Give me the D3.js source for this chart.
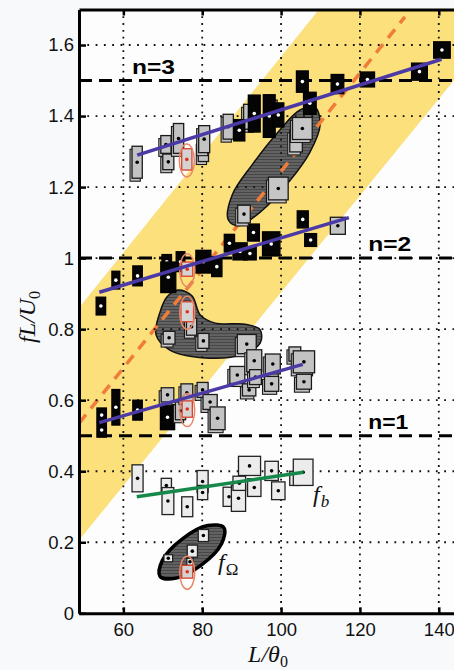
<!DOCTYPE html>
<html><head><meta charset="utf-8">
<script src="https://cdn.jsdelivr.net/npm/d3@7"></script>
<style>
html,body{margin:0;padding:0;background:#f8f9fb;}
svg{display:block;}
</style></head><body>
<svg id="chart" width="454" height="670"></svg>
<script>
// Axis ticks and the horizontal mode levels fL/U0 = n/2
const xTicks = [60, 80, 100, 120, 140];
const yTicks = [0, 0.2, 0.4, 0.6, 0.8, 1, 1.2, 1.4, 1.6];
const modeLevels = [0.5, 1, 1.5];
const modeNames = ["n=1", "n=2", "n=3"];

// Each measurement: [L/θ0, fL/U0, ±L/θ0, ±fL/U0]
const n3Dark = [
  [89.4, 1.360, 1.4, 0.030], [93.2, 1.407, 1.5, 0.052], [97.0, 1.400, 1.5, 0.060],
  [99.3, 1.403, 1.4, 0.034], [105.4, 1.497, 1.5, 0.030], [107.3, 1.436, 1.6, 0.031],
  [114.3, 1.490, 1.6, 0.027], [121.9, 1.503, 1.8, 0.021], [135.1, 1.525, 2.0, 0.024],
  [140.8, 1.586, 2.1, 0.023]
];
const n3Gray = [
  [63.5, 1.270, 1.3, 0.045], [70.8, 1.320, 1.3, 0.025], [71.4, 1.271, 1.4, 0.022],
  [74.0, 1.337, 1.3, 0.042], [80.3, 1.300, 1.3, 0.028], [80.5, 1.335, 1.4, 0.038],
  [86.6, 1.370, 1.3, 0.035], [92.0, 1.398, 1.5, 0.035], [97.6, 1.420, 1.4, 0.025]
];
const n2Dark = [
  [54.3, 0.865, 1.2, 0.025], [58.1, 0.938, 1.0, 0.025], [63.6, 0.950, 1.2, 0.028],
  [71.0, 0.990, 1.2, 0.020], [71.4, 0.946, 1.9, 0.043], [74.5, 0.990, 1.1, 0.028],
  [80.3, 0.990, 1.9, 0.032], [83.7, 0.976, 1.3, 0.028], [86.9, 1.042, 1.3, 0.025],
  [89.6, 1.019, 1.8, 0.024], [92.1, 1.013, 1.6, 0.018], [93.0, 1.072, 1.5, 0.024],
  [97.5, 1.040, 2.2, 0.034], [105.5, 1.109, 1.4, 0.024], [107.5, 1.051, 1.5, 0.018]
];
const n2Gray = [
  [114.4, 1.091, 1.9, 0.024]
];
const n1Dark = [
  [54.5, 0.558, 1.2, 0.020], [54.5, 0.516, 1.2, 0.020], [58.1, 0.580, 1.0, 0.050],
  [63.6, 0.572, 1.2, 0.028], [71.2, 0.552, 1.8, 0.035]
];
const n1Gray = [
  [71.2, 0.615, 1.6, 0.020], [74.5, 0.570, 1.3, 0.025], [76.1, 0.621, 1.5, 0.025],
  [80.1, 0.629, 1.4, 0.021], [82.0, 0.595, 1.8, 0.021], [83.9, 0.549, 1.9, 0.032],
  [88.9, 0.671, 1.9, 0.024], [91.9, 0.629, 1.7, 0.017], [93.2, 0.711, 1.9, 0.031],
  [93.5, 0.665, 1.5, 0.021], [97.9, 0.702, 1.9, 0.028], [97.6, 0.646, 1.8, 0.021],
  [103.5, 0.730, 1.5, 0.020], [105.8, 0.708, 2.7, 0.031], [105.8, 0.652, 1.9, 0.021]
];
const clusterUpper = [
  [90.6, 1.124, 1.6, 0.025], [99.3, 1.196, 2.5, 0.032], [103.8, 1.330, 1.6, 0.031],
  [105.4, 1.365, 2.5, 0.031]
];
const clusterMiddle = [
  [71.6, 0.776, 1.5, 0.018], [77.3, 0.807, 1.3, 0.024], [80.3, 0.767, 1.4, 0.021],
  [91.3, 0.758, 2.4, 0.027]
];
const fbPoints = [
  [63.6, 0.380, 1.4, 0.038], [70.9, 0.360, 1.3, 0.020], [71.3, 0.316, 1.5, 0.038],
  [76.2, 0.300, 1.4, 0.028], [80.1, 0.371, 1.4, 0.031], [80.1, 0.340, 1.3, 0.020],
  [86.8, 0.328, 1.5, 0.027], [89.2, 0.324, 1.8, 0.037], [89.4, 0.366, 1.6, 0.020],
  [92.0, 0.415, 2.8, 0.027], [93.2, 0.354, 1.7, 0.025], [97.6, 0.401, 1.7, 0.027],
  [99.3, 0.345, 1.7, 0.025], [103.5, 0.380, 1.3, 0.020], [105.6, 0.397, 2.5, 0.037]
];
const fOmegaPoints = [
  [71.4, 0.155, 1.1, 0.010], [76.9, 0.145, 0.8, 0.010], [77.5, 0.175, 1.3, 0.017],
  [80.3, 0.219, 1.3, 0.017]
];
const flaggedPoints = [
  [76.1, 1.278, 1.3, 0.030], [76.2, 0.969, 1.4, 0.020], [76.2, 0.849, 1.6, 0.028],
  [76.2, 0.575, 1.3, 0.023], [76.2, 0.117, 1.4, 0.018]
];

// Linear fits, [L/θ0, fL/U0] end points
const fitN3 = [[63.5, 1.290], [140.7, 1.560]];
const fitN2 = [[53.9, 0.904], [117.2, 1.114]];
const fitN1 = [[53.9, 0.537], [105.5, 0.701]];
const fitFb = [[63.4, 0.328], [105.7, 0.397]];
const scalingLine = [[48.75, 0.535], [131.4, 1.679]];
const scalingBand = [[48.75, 0.206], [48.75, 0.86], [109.6, 1.7], [146, 1.7], [146, 1.53]];

// Outlines of the grouped regions
const regionUpper = [
  [108.6, 1.425], [109.9, 1.375], [107.3, 1.298], [102.3, 1.219], [95.2, 1.134],
  [89.1, 1.091], [86.6, 1.108], [87.6, 1.178], [92.6, 1.262], [99.7, 1.361], [104.8, 1.417]
];
const regionMiddle = [
  [73.9, 0.910], [77.4, 0.894], [79.5, 0.840], [83.3, 0.817], [90.9, 0.814], [94.7, 0.798],
  [94.7, 0.761], [89.6, 0.727], [80.7, 0.719], [71.8, 0.741], [68.3, 0.784], [69.3, 0.848],
  [71.1, 0.891]
];
const regionOmega = [
  [85.5, 0.241], [84.9, 0.196], [79.9, 0.137], [73.4, 0.099], [69.3, 0.104],
  [69.9, 0.149], [74.9, 0.209], [81.4, 0.247]
];

const svg = d3.select("#chart");
const x = d3.scaleLinear().domain([48.75, 145]).range([79, 458.5]);
const y = d3.scaleLinear().domain([0, 1.7]).range([613.3, 9.5]);
const [x0, x1] = x.range();
const [yb, yt] = y.range();

const defs = svg.append("defs");
defs.append("clipPath").attr("id", "plotClip")
  .append("rect").attr("x", x0).attr("y", yt).attr("width", x1 - x0).attr("height", yb - yt);
const pat = defs.append("pattern").attr("id", "hatch")
  .attr("patternUnits", "userSpaceOnUse").attr("width", 6).attr("height", 3);
pat.append("rect").attr("width", 6).attr("height", 3).attr("fill", "#626262");
pat.append("rect").attr("width", 6).attr("height", 1).attr("fill", "#474747");

svg.append("rect").attr("x", x0).attr("y", yt).attr("width", x1 - x0).attr("height", yb - yt)
  .attr("fill", "#fdfdfd");

const plot = svg.append("g").attr("clip-path", "url(#plotClip)");
const line = d3.line().x(d => x(d[0])).y(d => y(d[1]));
const blob = d3.line().x(d => x(d[0])).y(d => y(d[1])).curve(d3.curveCatmullRomClosed.alpha(0.5));

// Scaling band and its centre line
plot.append("path").attr("d", line(scalingBand) + "Z").attr("fill", "#fbe07c");

// Grouped regions
plot.append("path").attr("d", blob(regionUpper)).attr("fill", "url(#hatch)")
  .attr("stroke", "#111").attr("stroke-width", 1.5);
plot.append("path").attr("d", blob(regionMiddle)).attr("fill", "url(#hatch)")
  .attr("stroke", "#111").attr("stroke-width", 1.5);

plot.append("path").attr("d", line(scalingLine)).attr("fill", "none")
  .attr("stroke", "#f07c3a").attr("stroke-width", 3.5).attr("stroke-dasharray", "11,8");

// Dotted grid
plot.selectAll("line.gy").data(yTicks.filter(v => v > 0)).join("line")
  .attr("x1", x0).attr("x2", x1).attr("y1", d => y(d)).attr("y2", d => y(d))
  .attr("stroke", "#111").attr("stroke-width", 1.8).attr("stroke-dasharray", "1.8,6.5");
plot.selectAll("line.gx").data(xTicks).join("line")
  .attr("y1", yt).attr("y2", yb).attr("x1", d => x(d)).attr("x2", d => x(d))
  .attr("stroke", "#111").attr("stroke-width", 1.8).attr("stroke-dasharray", "1.8,5");

// Mode levels
plot.selectAll("line.mode").data(modeLevels).join("line")
  .attr("x1", x0).attr("x2", x1).attr("y1", d => y(d)).attr("y2", d => y(d))
  .attr("stroke", "#000").attr("stroke-width", 3).attr("stroke-dasharray", "13,7");

plot.append("path").attr("d", blob(regionOmega)).attr("fill", "url(#hatch)")
  .attr("stroke", "#000").attr("stroke-width", 3.5);

function boxes(data, fill, stroke, dotFill, shadow) {
  const g = plot.append("g");
  data.forEach(d => {
    const bx = x(d[0] - d[2]), bw = x(d[0] + d[2]) - bx;
    const by = y(d[1] + d[3]), bh = y(d[1] - d[3]) - by;
    if (shadow) {
      g.append("rect").attr("x", bx - 2).attr("y", by + 3).attr("width", bw).attr("height", bh)
        .attr("fill", fill).attr("stroke", stroke).attr("stroke-width", 1.1);
    }
    g.append("rect").attr("x", bx).attr("y", by).attr("width", bw).attr("height", bh)
      .attr("fill", fill).attr("stroke", stroke).attr("stroke-width", 1.3);
    g.append("circle").attr("cx", x(d[0])).attr("cy", y(d[1])).attr("r", 1.8).attr("fill", dotFill);
  });
}

boxes(n3Gray, "#c3c3c3", "#1a1a1a", "#000", true);
boxes(n3Dark, "#050505", "#000", "#fff", false);
boxes(n2Dark, "#050505", "#000", "#fff", false);
boxes(n2Gray, "#c3c3c3", "#1a1a1a", "#000", false);
boxes(clusterUpper, "#c6c6c6", "#1a1a1a", "#000", true);
boxes(clusterMiddle, "#c6c6c6", "#1a1a1a", "#000", true);
boxes(n1Dark, "#050505", "#000", "#fff", false);
boxes(n1Gray, "#c3c3c3", "#1a1a1a", "#000", true);
boxes(fbPoints, "#ececec", "#222", "#000", false);
boxes(fOmegaPoints, "#ececec", "#222", "#000", false);

// Flagged runs
boxes(flaggedPoints, "#d4d4d4", "#d8432a", "#e2301c", false);
plot.selectAll("ellipse.flag").data(flaggedPoints).join("ellipse")
  .attr("cx", d => x(d[0])).attr("cy", d => y(d[1]) + 1)
  .attr("rx", 7.5).attr("ry", 16.5)
  .attr("fill", "none").attr("stroke", "#e8866a").attr("stroke-width", 1.5);

// Fits
[fitN3, fitN2, fitN1].forEach(f => {
  plot.append("path").attr("d", line(f)).attr("stroke", "#4b3aa6").attr("stroke-width", 3.5)
    .attr("fill", "none");
});
plot.append("path").attr("d", line(fitFb)).attr("stroke", "#16894a").attr("stroke-width", 3.5)
  .attr("fill", "none");

// Axes
const fmt = d3.format("~g");
const axL = svg.append("g").attr("transform", `translate(${x0},0)`)
  .call(d3.axisLeft(y).tickValues(yTicks).tickSize(-7).tickSizeOuter(0).tickPadding(5).tickFormat(fmt));
const axB = svg.append("g").attr("transform", `translate(0,${yb})`)
  .call(d3.axisBottom(x).tickValues(xTicks).tickSize(-6).tickSizeOuter(0).tickPadding(10).tickFormat(fmt));
const axT = svg.append("g").attr("transform", `translate(0,${yt})`)
  .call(d3.axisTop(x).tickValues(xTicks).tickSize(-6).tickSizeOuter(0).tickFormat(""));
[axL, axB, axT].forEach(a => {
  a.select(".domain").attr("stroke", "#000").attr("stroke-width", 3);
  a.selectAll(".tick line").attr("stroke", "#000").attr("stroke-width", 2.5);
  a.selectAll("text").attr("font-family", "'Liberation Sans', Arial, sans-serif")
    .attr("font-size", 18.5).attr("fill", "#111");
});

// Mode labels
const modeLabelX = [122.1, 122.1, 62.2];
modeNames.forEach((name, i) => {
  svg.append("text").attr("x", x(modeLabelX[i])).attr("y", y(modeLevels[i]) - 7)
    .attr("font-family", "'Liberation Sans', Arial, sans-serif").attr("font-weight", "bold")
    .attr("font-size", 21).attr("textLength", i === 0 ? 40 : 43)
    .attr("lengthAdjust", "spacingAndGlyphs").attr("fill", "#000").text(name);
});

// Series labels
const serif = "'Liberation Serif', 'Times New Roman', serif";
const fb = svg.append("text").attr("x", x(108.1)).attr("y", y(0.313))
  .attr("font-family", serif).attr("font-size", 24).attr("fill", "#111");
fb.append("tspan").attr("font-style", "italic").text("f");
fb.append("tspan").attr("font-style", "italic").attr("font-size", 17).attr("dy", 5).attr("dx", 1).text("b");
const fo = svg.append("text").attr("x", x(84.0)).attr("y", y(0.122))
  .attr("font-family", serif).attr("font-size", 24).attr("fill", "#111");
fo.append("tspan").attr("font-style", "italic").text("f");
fo.append("tspan").attr("font-size", 17).attr("dy", 5).attr("dx", 1).text("Ω");

// Axis titles
const xt = svg.append("text").attr("x", 268).attr("y", 662).attr("text-anchor", "middle")
  .attr("font-family", serif).attr("font-size", 24).attr("fill", "#111");
xt.append("tspan").attr("font-style", "italic").text("L/θ");
xt.append("tspan").attr("font-size", 16).attr("dy", 5).text("0");

const ytl = svg.append("text").attr("transform", "translate(35,317) rotate(-90)")
  .attr("text-anchor", "middle").attr("font-family", serif).attr("font-size", 24).attr("fill", "#111");
ytl.append("tspan").attr("font-style", "italic").text("fL/U");
ytl.append("tspan").attr("font-size", 16).attr("dy", 5).text("0");
</script></body></html>
